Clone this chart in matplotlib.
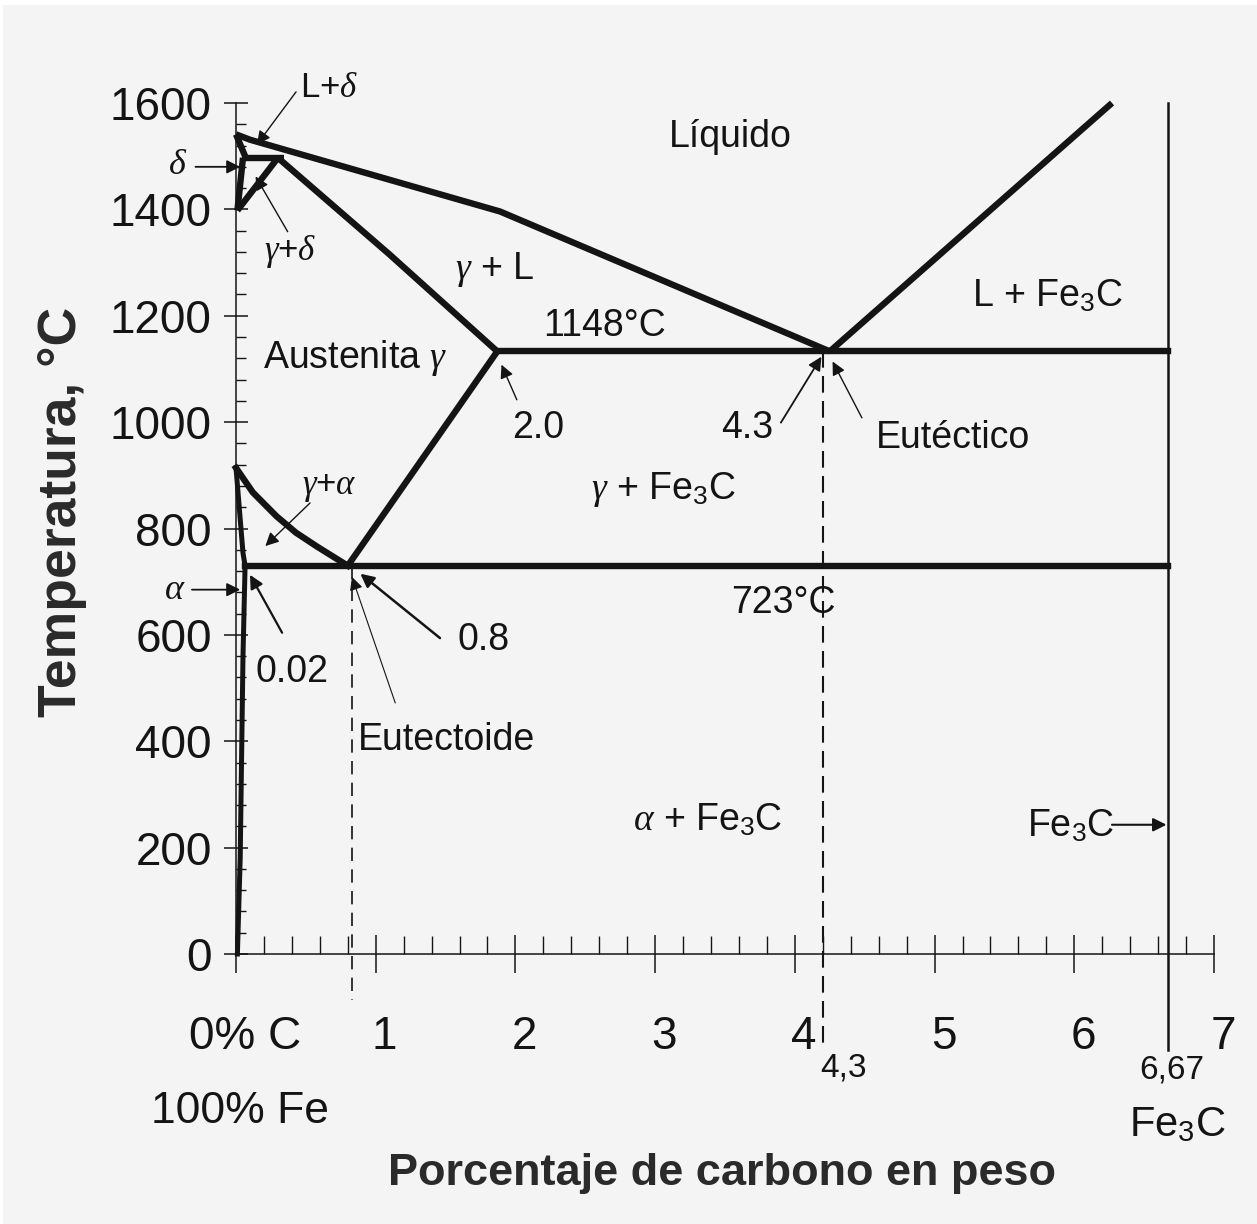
import matplotlib
matplotlib.use("Agg")
import matplotlib.pyplot as plt
from matplotlib.patches import Rectangle
from matplotlib.transforms import ScaledTranslation

FONT = "Liberation Sans"
plt.rcParams["font.family"] = [FONT, "DejaVu Sans"]
plt.rcParams["mathtext.fontset"] = "custom"
plt.rcParams["mathtext.rm"] = FONT
plt.rcParams["mathtext.it"] = "Liberation Serif:italic"
plt.rcParams["mathtext.bf"] = FONT + ":bold"

INK = "#141414"

# ---- phase boundaries (wt% C, temperature in C) ----
liquidus_c = [0.0, 0.10, 1.89, 4.25]
liquidus_t = [1541, 1531, 1396, 1133]
liquidus_fe3c_c = [4.25, 6.27]
liquidus_fe3c_t = [1133, 1600]
delta_solidus_c = [0.0, 0.07]
delta_solidus_t = [1541, 1497]
peritectic_c = [0.04, 0.34]
peritectic_t = [1497, 1497]
delta_low_c = [0.01, 0.05]
delta_low_t = [1398, 1497]
gamma_delta_c = [0.01, 0.30]
gamma_delta_t = [1398, 1497]
gamma_solidus_c = [0.30, 1.10, 1.87]
gamma_solidus_t = [1497, 1315, 1133]
a3_c = [0.0, 0.12, 0.29, 0.43, 0.58, 0.80]
a3_t = [914, 868, 823, 792, 766, 730]
acm_c = [0.80, 1.87]
acm_t = [730, 1133]
alpha_c = [0.0, 0.05, 0.065, 0.05, 0.04, 0.03, 0.01]
alpha_t = [914, 754, 730, 560, 370, 180, 0]

eutectic_t = 1133
eutectic_span = [1.87, 6.67]
eutectoid_t = 730
eutectoid_span = [0.065, 6.67]
fe3c_c = 6.67
fe3c_span = [-180, 1600]
dash_eutectoid_c = 0.83
dash_eutectoid_span = [730, -87]
dash_eutectic_c = 4.20
dash_eutectic_span = [1133, -171]

x_ticks = [0, 1, 2, 3, 4, 5, 6, 7]
x_ticklabels = ["0% C", "1", "2", "3", "4", "5", "6", "7"]
y_ticks = [0, 200, 400, 600, 800, 1000, 1200, 1400, 1600]

# region labels: text, C, T, size (pt)
labels = [
    ("Líquido", 3.54, 1537, 27),
    ("L+$\\delta$", 0.67, 1629, 25),
    ("$\\delta$", -0.42, 1484, 26),
    ("$\\gamma$+$\\delta$", 0.39, 1320, 25),
    ("$\\gamma$ + L", 1.85, 1287, 27),
    ("1148°C", 2.64, 1181, 27),
    ("Austenita $\\gamma$", 0.85, 1121, 27),
    ("2.0", 2.16, 989, 27),
    ("4.3", 3.66, 989, 27),
    ("Eutéctico", 5.13, 971, 27),
    ("L + Fe$_\\mathrm{3}$C", 5.81, 1236, 27),
    ("$\\gamma$ + Fe$_\\mathrm{3}$C", 3.06, 873, 27),
    ("$\\gamma$+$\\alpha$", 0.67, 878, 25),
    ("$\\alpha$", -0.44, 685, 26),
    ("723°C", 3.92, 660, 27),
    ("0.02", 0.40, 530, 27),
    ("0.8", 1.77, 591, 27),
    ("Eutectoide", 1.51, 403, 27),
    ("$\\alpha$ + Fe$_\\mathrm{3}$C", 3.38, 252, 27),
    ("Fe$_\\mathrm{3}$C", 5.97, 239, 27),
    ("4,3", 4.35, -214, 24),
    ("6,67", 6.70, -218, 24),
    ("Fe$_\\mathrm{3}$C", 6.74, -322, 30),
    ("100% Fe", 0.03, -297, 32),
]

# pointer arrows: tail (C, T) -> head (C, T), line width
arrows = [
    ((0.43, 1621), (0.15, 1522), 1.0),
    ((-0.29, 1480), (0.03, 1480), 1.3),
    ((0.37, 1358), (0.14, 1462), 1.0),
    ((2.01, 1042), (1.90, 1108), 1.0),
    ((3.90, 999), (4.19, 1123), 1.3),
    ((4.48, 1008), (4.27, 1114), 1.0),
    ((0.53, 848), (0.21, 767), 1.0),
    ((-0.315, 685), (0.03, 685), 1.3),
    ((0.33, 604), (0.10, 713), 1.6),
    ((1.46, 594), (0.89, 715), 1.8),
    ((1.14, 472), (0.83, 709), 0.8),
    ((6.27, 243), (6.66, 243), 1.5),
]

fig = plt.figure(figsize=(12.57, 12.24), dpi=100, facecolor="#f4f4f4")
fig.patches.append(Rectangle((0, 1 - 5 / 1224), 1, 5 / 1224, transform=fig.transFigure,
                             facecolor="white", edgecolor="none"))
fig.patches.append(Rectangle((0, 0), 3 / 1257, 1, transform=fig.transFigure,
                             facecolor="white", edgecolor="none"))

ax = fig.add_axes([236 / 1257, 1 - 954 / 1224, 978 / 1257, 851 / 1224])
ax.set_facecolor("none")
ax.set_xlim(0, 7)
ax.set_ylim(0, 1600)

for s in ["top", "right"]:
    ax.spines[s].set_visible(False)
for s in ["left", "bottom"]:
    ax.spines[s].set_linewidth(1.1)
    ax.spines[s].set_color(INK)

ax.set_xticks(x_ticks)
ax.set_xticklabels(x_ticklabels)
ax.set_xticks([i * 0.2 for i in range(36)], minor=True)
ax.set_yticks(y_ticks)
ax.set_yticks(list(range(0, 1601, 40)), minor=True)
ax.tick_params(axis="x", which="major", direction="inout", length=28, width=1.1,
               pad=30, labelsize=33, colors=INK)
ax.tick_params(axis="x", which="minor", direction="in", length=13, width=1.0, colors=INK)
ax.tick_params(axis="y", which="major", direction="inout", length=17, width=1.1,
               pad=9, labelsize=33, colors=INK)
ax.tick_params(axis="y", which="minor", direction="in", length=7, width=1.0, colors=INK)

shift = ScaledTranslation(0.09, 0, fig.dpi_scale_trans)
for lab in ax.get_xticklabels():
    lab.set_transform(lab.get_transform() + shift)

thick = dict(color=INK, lw=4.6, solid_capstyle="butt", solid_joinstyle="miter", clip_on=False)
for xs, ys in [
    (liquidus_c, liquidus_t),
    (liquidus_fe3c_c, liquidus_fe3c_t),
    (delta_solidus_c, delta_solidus_t),
    (peritectic_c, peritectic_t),
    (delta_low_c, delta_low_t),
    (gamma_delta_c, gamma_delta_t),
    (gamma_solidus_c, gamma_solidus_t),
    (acm_c, acm_t),
]:
    ax.plot(xs, ys, **thick)
ax.plot(a3_c, a3_t, color=INK, lw=4.6, solid_joinstyle="round", clip_on=False)
ax.plot(alpha_c, alpha_t, color=INK, lw=3.6, solid_joinstyle="miter", clip_on=False)

ax.plot(eutectic_span, [eutectic_t, eutectic_t], color=INK, lw=4.6, clip_on=False)
ax.plot(eutectoid_span, [eutectoid_t, eutectoid_t], color=INK, lw=4.6, clip_on=False)
ax.plot([fe3c_c, fe3c_c], fe3c_span, color=INK, lw=1.8, clip_on=False)
ax.plot([dash_eutectoid_c, dash_eutectoid_c], dash_eutectoid_span, color=INK, lw=1.2,
        dashes=(8, 5), clip_on=False)
ax.plot([dash_eutectic_c, dash_eutectic_c], dash_eutectic_span, color=INK, lw=1.5,
        dashes=(8, 4), clip_on=False)

for tail, head, lw in arrows:
    ax.annotate("", xy=head, xytext=tail, annotation_clip=False,
                arrowprops=dict(arrowstyle="-|>", lw=lw, color=INK, mutation_scale=20,
                                shrinkA=0, shrinkB=0))

for txt, c, t, size in labels:
    ax.text(c, t, txt, fontsize=size, color=INK, ha="center", va="center", clip_on=False)

fig.text(62 / 1257, 1 - 512 / 1224, "Temperatura, °C", rotation=90, fontsize=38.5,
         fontweight="bold", color="#2a2a2a", ha="center", va="center")
fig.text(722 / 1257, 1 - 1173 / 1224, "Porcentaje de carbono en peso", fontsize=32.5,
         fontweight="bold", color="#2a2a2a", ha="center", va="center")

fig.savefig("out.png", dpi=100, facecolor=fig.get_facecolor())
